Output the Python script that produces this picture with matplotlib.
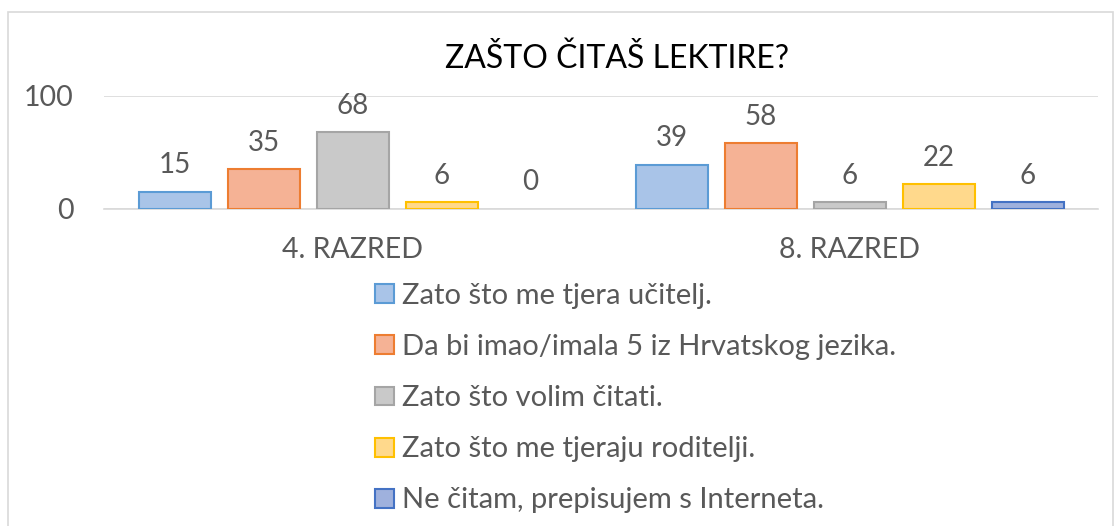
import matplotlib.pyplot as plt
from matplotlib.patches import Rectangle
import numpy as np

plt.rcParams['font.family'] = ['Lato', 'DejaVu Sans']

# data
groups = ['4. RAZRED', '8. RAZRED']
series = ['Zato što me tjera učitelj.',
          'Da bi imao/imala 5 iz Hrvatskog jezika.',
          'Zato što volim čitati.',
          'Zato što me tjeraju roditelji.',
          'Ne čitam, prepisujem s Interneta.']
values = [[15, 39],
          [35, 58],
          [68, 6],
          [6, 22],
          [0, 6]]
fills = ['#a9c4e8', '#f5b295', '#c9c9c9', '#ffd98c', '#9fb1dd']
edges = ['#5b9bd5', '#ed7d31', '#a5a5a5', '#ffc000', '#4472c4']

text_col = '#595959'

fig = plt.figure(figsize=(11.16, 5.26), dpi=100)
ax = fig.add_axes([0.0935, 0.6027, 0.8905, 0.2148])

x = np.arange(len(groups))
step = 0.179
width = 0.145
for i, (name, vals) in enumerate(zip(series, values)):
    pos = x + (i - 2) * step
    lw = [1.5 if v > 0 else 0 for v in vals]
    ax.bar(pos, vals, width, color=fills[i], edgecolor=edges[i], linewidth=lw,
           zorder=3)
    # proxy for legend
    ax.bar([0], [0], 0, color=fills[i], edgecolor=edges[i], linewidth=1.5, label=name)
    for p, v in zip(pos, vals):
        ax.text(p, v + 12, str(v), ha='center', va='bottom', fontsize=20,
                color=text_col, clip_on=False)

ax.set_xlim(-0.5, 1.5)
ax.set_ylim(0, 100)
ax.set_yticks([0, 100])
ax.set_xticks(x)
ax.set_xticklabels(groups)
ax.tick_params(axis='both', length=0, labelsize=20.5, labelcolor=text_col)
ax.tick_params(axis='y', pad=22)
ax.tick_params(axis='x', pad=20)
ax.yaxis.grid(True, color='#d9d9d9', linewidth=1.2, zorder=0)
for s in ax.spines.values():
    s.set_visible(False)
ax.spines['bottom'].set_visible(True)
ax.spines['bottom'].set_color('#d9d9d9')
ax.spines['bottom'].set_linewidth(1.2)

fig.text(0.553, 0.889, 'ZAŠTO ČITAŠ LEKTIRE?', ha='center', va='center',
         fontsize=23, color='black')

leg = fig.legend(loc='upper left', bbox_to_anchor=(0.326, 0.484), frameon=False,
                 fontsize=21, labelcolor=text_col, handlelength=0.62,
                 handleheight=0.62, handletextpad=0.3, labelspacing=0.86,
                 borderaxespad=0)

fig.patches.append(Rectangle((0.007, -0.05), 0.99, 1.027, transform=fig.transFigure,
                             fill=False, edgecolor='#d9d9d9', linewidth=1.2))

fig.savefig('out.png', dpi=100)
